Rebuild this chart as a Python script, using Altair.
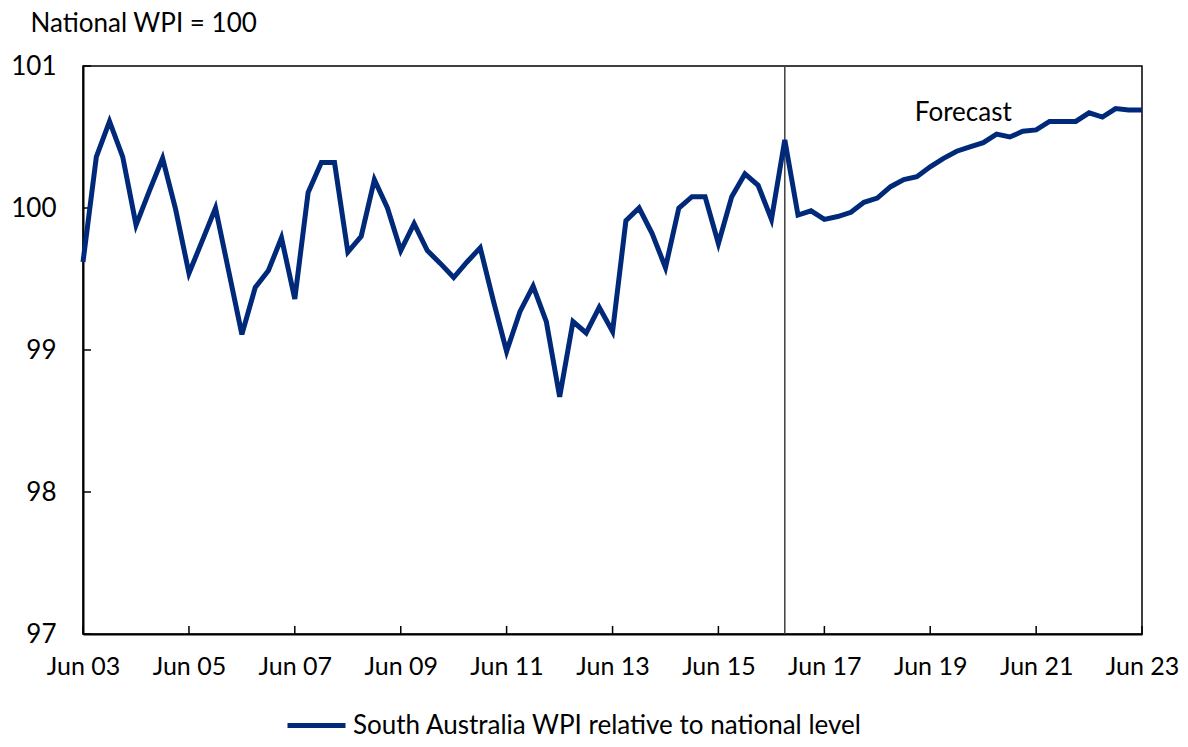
import altair as alt
import pandas as pd

# Quarterly observations, Jun 2003 to Jun 2023
quarters = [d.strftime("%Y-%m-%d") for d in pd.date_range("2003-06-01", periods=81, freq="3MS")]
values = [
    99.62, 100.36, 100.61, 100.36, 99.88, 100.12, 100.35, 99.99, 99.54, 99.77,
    100.00, 99.56, 99.11, 99.44, 99.56, 99.79, 99.36, 100.11, 100.32, 100.32,
    99.69, 99.80, 100.20, 100.00, 99.70, 99.89, 99.70, 99.61, 99.51, 99.62,
    99.72, 99.35, 98.99, 99.27, 99.45, 99.20, 98.67, 99.20, 99.12, 99.30,
    99.13, 99.91, 100.00, 99.82, 99.58, 100.00, 100.08, 100.08, 99.75, 100.08,
    100.24, 100.16, 99.92, 100.48, 99.95, 99.98, 99.92, 99.94, 99.97, 100.04,
    100.07, 100.15, 100.20, 100.22, 100.29, 100.35, 100.40, 100.43, 100.46, 100.52,
    100.50, 100.54, 100.55, 100.61, 100.61, 100.61, 100.67, 100.64, 100.70, 100.69,
    100.69,
]
series_name = "South Australia WPI relative to national level"
x_tick_years = [2003, 2005, 2007, 2009, 2011, 2013, 2015, 2017, 2019, 2021, 2023]
y_ticks = [97, 98, 99, 100, 101]
forecast_start = ["2016-09-01"]
annot_date = ["2020-01-15"]
annot_value = [100.67]
annot_text = ["Forecast"]

FONT = "Lato"
NAVY = "#00297A"

df = pd.DataFrame({"date": quarters, "value": values, "series": series_name})
ticks_x_df = pd.DataFrame({"date": [f"{y}-06-01" for y in x_tick_years]})
ticks_y_df = pd.DataFrame({"v": y_ticks})
fc_df = pd.DataFrame({"date": forecast_start})
annot_df = pd.DataFrame({"date": annot_date, "value": annot_value, "text": annot_text})

x_scale = alt.Scale(
    type="utc",
    domain=[alt.DateTime(year=2003, month=6, date=1, utc=True),
            alt.DateTime(year=2023, month=6, date=1, utc=True)],
    nice=False,
)
y_scale = alt.Scale(domain=[97, 101], nice=False, zero=False)

x_axis = alt.Axis(
    values=[alt.DateTime(year=y, month=6, date=1, utc=True) for y in x_tick_years],
    format="%b %y",
    title=None,
    ticks=False,
    tickSize=0,
    labelPadding=20,
    labelFlush=False,
    labelOverlap=False,
    labelAlign="center",
    grid=False,
    domainColor="black",
    domainWidth=2,
    labelFont=FONT,
    labelFontSize=25,
    labelColor="black",
)
y_axis = alt.Axis(
    values=y_ticks,
    format="d",
    ticks=False,
    tickSize=0,
    labelPadding=27,
    labelFlush=False,
    labelOverlap=False,
    grid=False,
    domainColor="black",
    domainWidth=2,
    labelFont=FONT,
    labelFontSize=26,
    labelColor="black",
    title="National WPI = 100",
    titleAngle=0,
    titleAlign="left",
    titleBaseline="top",
    titleX=-53,
    titleY=-56,
    titleFont=FONT,
    titleFontSize=26,
    titleFontWeight="normal",
    titleColor="black",
)

line = alt.Chart(df).mark_line(strokeWidth=5, strokeJoin="miter").encode(
    x=alt.X("date:T", scale=x_scale, axis=x_axis),
    y=alt.Y("value:Q", scale=y_scale, axis=y_axis),
    color=alt.Color(
        "series:N",
        scale=alt.Scale(domain=[series_name], range=[NAVY]),
        legend=alt.Legend(
            title=None,
            orient="none",
            legendX=202,
            legendY=628,
            symbolType="stroke",
            symbolSize=3364,
            symbolStrokeWidth=5,
            labelFont=FONT,
            labelFontSize=26,
            labelColor="black",
            labelOffset=5,
            labelLimit=0,
            padding=0,
        ),
    ),
)

vline = alt.Chart(fc_df).mark_rule(color="#404040", strokeWidth=1.5).encode(
    x=alt.X("date:T", scale=x_scale)
)

xticks = alt.Chart(ticks_x_df).mark_rule(color="black", strokeWidth=1.5).encode(
    x=alt.X("date:T", scale=x_scale),
    y=alt.value(568),
    y2=alt.value(560),
)
yticks = alt.Chart(ticks_y_df).mark_rule(color="black", strokeWidth=1.5).encode(
    y=alt.Y("v:Q", scale=y_scale),
    x=alt.value(0),
    x2=alt.value(8),
)

annot = alt.Chart(annot_df).mark_text(
    font=FONT, fontSize=26, color="black", align="center", baseline="middle"
).encode(
    x=alt.X("date:T", scale=x_scale),
    y=alt.Y("value:Q", scale=y_scale),
    text="text:N",
)

chart = alt.layer(vline, xticks, yticks, line, annot).properties(
    width=1059,
    height=568,
    autosize=alt.AutoSizeParams(type="none"),
    padding={"left": 75, "top": 58, "right": 38, "bottom": 105},
    background="white",
).configure_view(
    stroke="black", strokeWidth=1.5
)

chart.save("out.html", embed_options={"renderer": "svg", "actions": False})
